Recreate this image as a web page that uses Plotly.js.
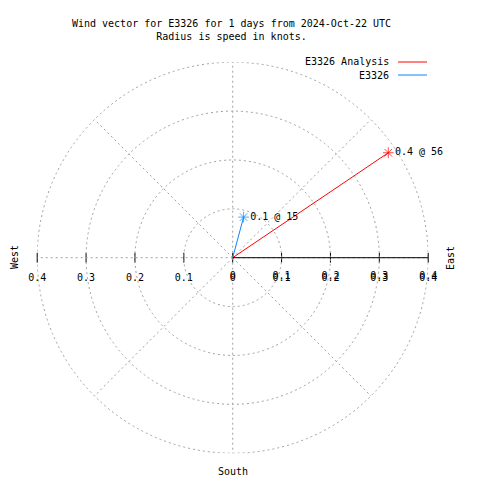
<!DOCTYPE html>
<html>
<head>
<meta charset="utf-8">
<script src="https://cdn.plot.ly/plotly-3.0.1.min.js"></script>
<style>html,body{margin:0;padding:0;background:#fff;}#chart{width:480px;height:480px;}</style>
</head>
<body>
<div id="chart"></div>
<script>
// ---- data ----
const seriesNames = ['E3326 Analysis', 'E3326'];
const seriesColors = ['#ff0000', '#0b84ff'];
const speeds = [0.384, 0.086];      // knots
const directions = [56, 15];        // degrees (compass)
const radialTicks = [0, 0.1, 0.2, 0.3, 0.4];
const axisTickVals = [-0.4, -0.3, -0.2, -0.1, 0, 0.1, 0.2, 0.3, 0.4];
const axisTickText = ['0.4', '0.3', '0.2', '0.1', '0', '0.1', '0.2', '0.3', '0.4'];
const titleLines = ['Wind vector for E3326 for 1 days from 2024-Oct-22 UTC', 'Radius is speed in knots.'];
const compassLabels = ['West', 'East', 'South'];

const FONT = 'DejaVu Sans Mono, Liberation Mono, monospace';
const GRID = '#a0a0a0';
const DASH = '2px,3px';

const xDom = [0.0775, 0.8921];
const yDom = [0.0558, 0.8704];
const rMax = radialTicks[radialTicks.length - 1];

const traces = [];
for (let i = 0; i < speeds.length; i++) {
  traces.push({
    type: 'scatterpolar',
    subplot: 'polar',
    r: [0, speeds[i]],
    theta: [directions[i], directions[i]],
    mode: 'lines+markers+text',
    line: {color: seriesColors[i], width: 1},
    marker: {symbol: 'asterisk-open', size: [0, 9], color: seriesColors[i], line: {color: seriesColors[i], width: 1}},
    text: ['', speeds[i].toFixed(1) + ' @ ' + directions[i]],
    textposition: 'middle right',
    textfont: {family: FONT, size: 10, color: '#000'},
    cliponaxis: false,
    showlegend: false,
    hoverinfo: 'skip'
  });
}
// tick marks along the horizontal axis
traces.push({
  type: 'scatter',
  x: axisTickVals,
  y: axisTickVals.map(() => 0),
  mode: 'markers',
  marker: {symbol: 'line-ns-open', size: 7, color: '#000', line: {color: '#000', width: 1}},
  showlegend: false,
  hoverinfo: 'skip',
  cliponaxis: false
});

const annotations = [];
seriesNames.forEach((n, i) => {
  annotations.push({
    text: n, xref: 'paper', yref: 'paper', x: 391 / 480, y: 1 - (62 + i * 13) / 480,
    xanchor: 'right', yanchor: 'middle', showarrow: false,
    font: {family: FONT, size: 10, color: '#000'}
  });
});
const compassPos = [[14, 257, -90], [450, 258, -90], [233, 471, 0]];
compassLabels.forEach((c, i) => {
  annotations.push({
    text: c, xref: 'paper', yref: 'paper', x: compassPos[i][0] / 480, y: 1 - compassPos[i][1] / 480,
    xanchor: 'center', yanchor: 'middle', showarrow: false, textangle: compassPos[i][2],
    font: {family: FONT, size: 10, color: '#000'}
  });
});

const shapes = seriesColors.map((c, i) => ({
  type: 'line', xref: 'paper', yref: 'paper',
  x0: 398 / 480, x1: 427 / 480, y0: 1 - (62 + i * 13) / 480, y1: 1 - (62 + i * 13) / 480,
  line: {color: c, width: 1}
}));
// outer grid circle at the largest radial tick
shapes.push({
  type: 'circle', xref: 'x', yref: 'y', x0: -rMax, x1: rMax, y0: -rMax, y1: rMax,
  line: {color: GRID, width: 1, dash: DASH}, layer: 'below'
});

const layout = {
  width: 480, height: 480,
  margin: {l: 0, r: 0, t: 0, b: 0},
  paper_bgcolor: '#fff',
  plot_bgcolor: 'rgba(0,0,0,0)',
  showlegend: false,
  title: {
    text: titleLines.join('<br>'),
    font: {family: FONT, size: 10, color: '#000'},
    x: 231.5 / 480, xanchor: 'center', xref: 'container',
    y: 1 - 26.5 / 480, yanchor: 'middle', yref: 'container'
  },
  polar: {
    domain: {x: xDom, y: yDom},
    bgcolor: 'rgba(0,0,0,0)',
    radialaxis: {
      range: [0, rMax], tickvals: radialTicks, ticktext: radialTicks.map(v => String(v)),
      angle: 0, side: 'clockwise', tickangle: 0,
      showline: true, linecolor: '#000', linewidth: 1,
      ticks: 'outside', ticklen: 9, tickcolor: 'rgba(0,0,0,0)',
      showgrid: true, gridcolor: GRID, griddash: DASH, gridwidth: 1,
      tickfont: {family: FONT, size: 10, color: '#000'}
    },
    angularaxis: {
      rotation: 90, direction: 'clockwise', dtick: 45,
      showticklabels: false, ticks: '', showline: false,
      showgrid: true, gridcolor: GRID, griddash: DASH, gridwidth: 1
    }
  },
  xaxis: {
    domain: xDom, range: [-rMax, rMax], anchor: 'free', position: (yDom[0] + yDom[1]) / 2,
    showgrid: false, zeroline: false, showline: false, ticks: '',
    tickvals: axisTickVals, ticktext: axisTickText, ticklabelstandoff: 12,
    tickfont: {family: FONT, size: 10, color: '#000'}, fixedrange: true
  },
  yaxis: {
    domain: yDom, range: [-rMax, rMax], visible: false, fixedrange: true
  },
  annotations: annotations,
  shapes: shapes
};

Plotly.newPlot('chart', traces, layout, {staticPlot: true});
</script>
</body>
</html>
